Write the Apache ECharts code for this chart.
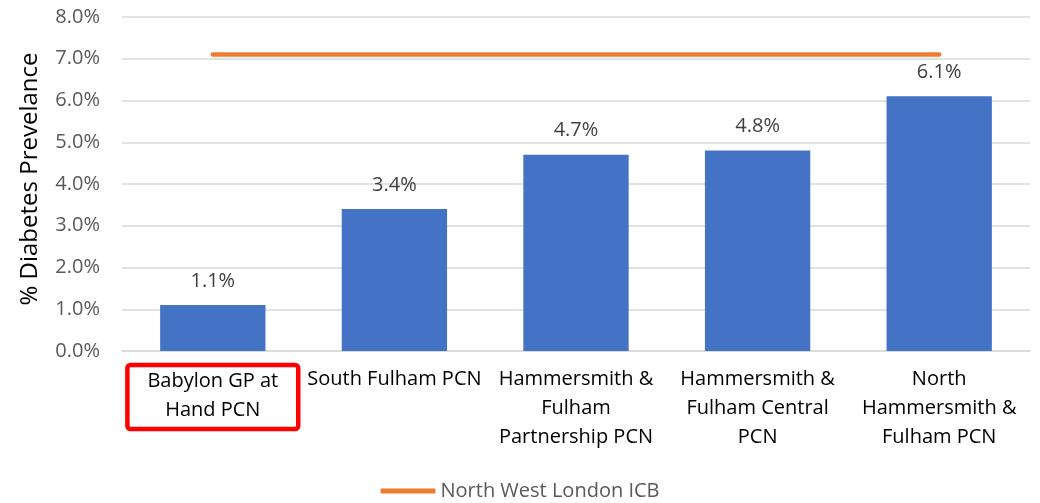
<!DOCTYPE html>
<html>
<head>
<meta charset="utf-8">
<script src="https://cdn.jsdelivr.net/npm/echarts@6/dist/echarts.min.js"></script>
<style>
  html, body { margin: 0; padding: 0; background: #fff; }
  #chart { width: 1040px; height: 503px; }
</style>
</head>
<body>
<div id="chart"></div>
<script>
// data
var categories = [
  'Babylon GP at\nHand PCN',
  'South Fulham PCN',
  'Hammersmith &\nFulham\nPartnership PCN',
  'Hammersmith &\nFulham Central\nPCN',
  'North\nHammersmith &\nFulham PCN'
];
var prevalence = [1.1, 3.4, 4.7, 4.8, 6.1];
var icbValues = [7.1, 7.1, 7.1, 7.1, 7.1];
var yTicks = [0, 1, 2, 3, 4, 5, 6, 7, 8];

var font = '"Open Sans", sans-serif';

// first category gets the red box around it
var xData = categories.map(function (c, i) {
  if (i === 0) {
    return {
      value: c,
      textStyle: {
        borderColor: '#ff0000',
        borderWidth: 4.5,
        borderRadius: 3,
        padding: [2, 20, 4, 20]
      }
    };
  }
  return c;
});

var chart = echarts.init(document.getElementById('chart'));
chart.setOption({
  animation: false,
  grid: { left: 122, right: 10, top: 17, bottom: 152 },
  legend: {
    bottom: -3,
    left: 'center',
    itemWidth: 55,
    itemHeight: 5,
    itemGap: 20,
    textStyle: { fontFamily: font, fontSize: 20, color: '#595959' },
    data: [{ name: 'North West London ICB', icon: 'roundRect' }]
  },
  xAxis: {
    type: 'category',
    data: xData,
    axisTick: { show: false },
    axisLine: { lineStyle: { color: '#d9d9d9', width: 1.5 } },
    axisLabel: {
      interval: 0,
      margin: 14,
      fontFamily: font,
      fontSize: 20,
      lineHeight: 29,
      color: '#000000'
    }
  },
  yAxis: {
    type: 'value',
    min: yTicks[0],
    max: yTicks[yTicks.length - 1],
    interval: 1,
    name: '% Diabetes Prevelance',
    nameLocation: 'middle',
    nameGap: 80,
    nameTextStyle: { fontFamily: font, fontSize: 24, color: '#000000', padding: [0, 0, 0, 10] },
    axisLabel: {
      margin: 22,
      fontFamily: font,
      fontSize: 20,
      color: '#595959',
      formatter: function (v) { return v.toFixed(1) + '%'; }
    },
    splitLine: { lineStyle: { color: '#d9d9d9', width: 1.5 } }
  },
  series: [
    {
      name: 'Diabetes Prevalence',
      type: 'bar',
      data: prevalence,
      barWidth: '58%',
      itemStyle: { color: '#4472c4' },
      label: {
        show: true,
        position: 'top',
        distance: 14,
        fontFamily: font,
        fontSize: 20,
        color: '#404040',
        formatter: function (p) { return p.value.toFixed(1) + '%'; }
      }
    },
    {
      name: 'North West London ICB',
      type: 'line',
      data: icbValues,
      symbol: 'none',
      lineStyle: { color: '#ed7d31', width: 4.5, cap: 'round' },
      itemStyle: { color: '#ed7d31' }
    }
  ]
});
</script>
</body>
</html>
